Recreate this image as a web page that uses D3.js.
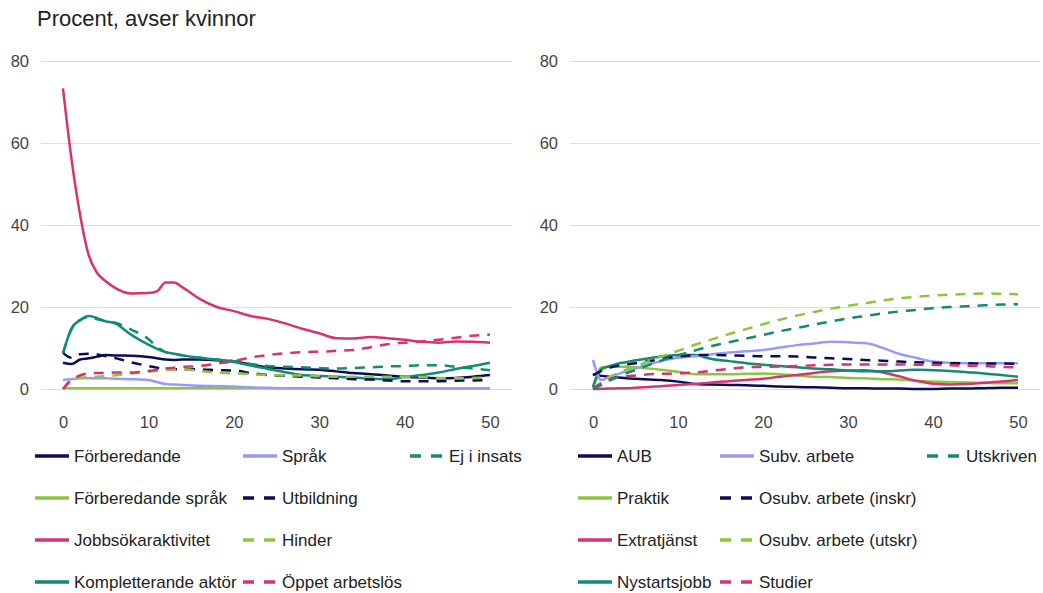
<!DOCTYPE html>
<html>
<head>
<meta charset="utf-8">
<script src="https://cdn.jsdelivr.net/npm/d3@7"></script>
<style>
  body { margin: 0; background: #fff; }
  svg { font-family: "Liberation Sans", Arial, sans-serif; }
</style>
</head>
<body>
<svg id="chart" width="1043" height="593"></svg>
<script>
// weeks along the x axis
const weeks = [0,1,2,3,4,5,6,8,10,11,12,13,14,16,18,20,22,24,26,28,30,32,34,36,38,40,42,44,46,48,50]
const yTicks = [0,20,40,60,80]
const xTicks = [0,10,20,30,40,50]

// left panel
const forberedande      = [6.4,6.1,7.2,7.5,7.9,8.3,8.2,8.1,7.8,7.5,7.2,7.1,7.2,7.2,7.0,6.7,6.0,5.3,5.0,4.8,4.7,4.3,3.9,3.6,3.3,3.0,2.8,2.6,2.7,3.0,3.4]
const forberedandeSprak = [0.2,0.2,0.2,0.2,0.2,0.2,0.2,0.2,0.2,0.2,0.2,0.2,0.2,0.2,0.2,0.2,0.2,0.2,0.2,0.2,0.2,0.2,0.2,0.2,0.2,0.2,0.2,0.2,0.2,0.2,0.2]
const jobbsok           = [73.3,56,42.5,32.7,28.3,26.3,24.8,23.3,23.4,23.8,26,26,24.8,22,20,19,17.8,17.1,16,14.7,13.6,12.4,12.3,12.7,12.4,12,11.5,11.3,11.6,11.5,11.3]
const kompletterande    = [8.7,14.8,16.8,17.8,17.3,16.5,16.1,13.2,10.8,9.8,9.0,8.6,8.2,7.6,7.2,6.6,5.7,4.9,4.1,3.4,3.2,3.0,2.8,2.5,2.4,2.9,3.4,4.0,4.9,5.6,6.4]
const sprak             = [2.2,2.4,2.6,2.6,2.6,2.6,2.5,2.4,2.2,1.7,1.2,1.1,1.0,0.8,0.7,0.6,0.4,0.3,0.2,0.2,0.1,0.1,0.1,0.1,0.1,0.1,0.1,0.1,0.1,0.1,0.1]
const utbildning        = [8.8,7.6,8.5,8.6,8.4,8.0,7.6,6.5,5.6,5.2,4.8,4.8,4.8,4.8,4.6,4.5,3.9,3.4,3.2,3.0,2.8,2.6,2.4,2.3,2.1,1.9,1.9,1.9,2.0,2.1,2.2]
const hinder            = [0,2.3,2.7,2.9,3.0,3.1,3.3,3.8,4.2,4.4,4.6,4.7,4.8,4.4,4.0,3.8,3.6,3.4,3.3,3.3,3.1,3.0,3.0,3.0,3.0,3.0,2.9,2.7,2.6,2.7,2.8]
const oppetArbetslos    = [0,2.2,3.3,3.8,3.9,3.9,4.0,4.0,4.4,4.7,5.0,5.2,5.4,5.6,6.2,6.8,7.7,8.3,8.7,9.0,9.1,9.3,9.5,10.2,10.9,11.3,11.6,12.0,12.5,13.0,13.3]
const ejIInsats         = [8.7,14.6,16.8,17.6,17.0,16.5,16.2,14.5,12.2,10.3,9.0,8.6,8.2,7.6,7.2,6.8,6.1,5.6,5.4,5.3,5.1,5.0,5.1,5.3,5.5,5.6,5.8,5.8,5.4,5.0,4.6]

// right panel
const aub          = [3.6,3.2,3.0,2.8,2.6,2.5,2.4,2.2,1.8,1.5,1.2,1.1,1.1,1.0,0.9,0.8,0.6,0.5,0.4,0.3,0.2,0.2,0.1,0.1,0,0,0.1,0.1,0.2,0.3,0.3]
const praktik      = [0.5,5.3,5.4,5.4,5.4,5.3,5.1,4.7,4.2,3.9,3.6,3.6,3.6,3.6,3.7,3.8,3.6,3.3,3.0,2.9,2.7,2.6,2.4,2.3,2.0,1.8,1.7,1.6,1.5,1.4,1.4]
const extratjanst  = [0,0.05,0.1,0.2,0.2,0.3,0.4,0.7,1.0,1.1,1.2,1.4,1.6,1.9,2.2,2.5,3.0,3.4,3.9,4.3,4.5,4.6,4.1,3.1,2.0,1.3,1.1,1.2,1.5,1.8,2.2]
const nystartsjobb = [0.5,4.8,5.6,6.2,6.6,7.0,7.3,7.9,8.3,8.3,8.3,7.8,7.3,6.8,6.3,5.9,5.6,5.3,5.0,4.8,4.5,4.3,4.3,4.5,4.7,4.6,4.4,4.1,3.8,3.4,3.0]
const subvArbete   = [7.1,2.2,3.0,3.7,4.4,5.0,5.7,6.8,7.6,7.8,8.0,8.2,8.5,8.9,9.2,9.5,10.1,10.7,11.1,11.5,11.4,11.2,10.1,8.6,7.6,6.7,6.4,6.3,6.3,6.3,6.3]
const osubvInskr   = [3.4,4.4,5.2,5.7,6.0,6.3,6.6,7.3,7.9,8.1,8.3,8.3,8.3,8.2,8.1,8.0,8.0,7.9,7.7,7.5,7.3,7.1,6.9,6.7,6.5,6.4,6.3,6.3,6.2,6.2,6.1]
const osubvUtskr   = [0,1.5,3.0,3.9,4.8,5.5,6.3,7.9,9.3,10.0,10.8,11.5,12.1,13.4,14.6,15.8,16.9,17.9,18.8,19.6,20.3,20.9,21.6,22.1,22.5,22.8,23.0,23.2,23.3,23.2,23.1]
const studier      = [0,1.5,2.4,2.8,3.1,3.3,3.5,3.7,3.8,3.9,4.0,4.2,4.5,4.9,5.3,5.4,5.5,5.6,5.8,5.9,6.0,6.0,6.0,6.0,5.9,5.9,5.8,5.7,5.6,5.4,5.3]
const utskriven    = [0,1.0,2.1,3.0,3.9,4.6,5.4,6.9,8.2,8.8,9.4,10.0,10.5,11.4,12.3,13.2,14.1,14.9,15.7,16.5,17.2,17.8,18.4,18.9,19.3,19.7,20.0,20.2,20.4,20.6,20.7]

const navy = '#0b0c55', lime = '#8cc63f', pink = '#d6336f', teal = '#138b73', lavender = '#9a9af4'

const leftSeries = [
  {name: 'Förberedande', values: forberedande, color: navy, dash: false},
  {name: 'Förberedande språk', values: forberedandeSprak, color: lime, dash: false},
  {name: 'Jobbsökaraktivitet', values: jobbsok, color: pink, dash: false},
  {name: 'Kompletterande aktör', values: kompletterande, color: teal, dash: false},
  {name: 'Språk', values: sprak, color: lavender, dash: false},
  {name: 'Utbildning', values: utbildning, color: navy, dash: true},
  {name: 'Hinder', values: hinder, color: lime, dash: true},
  {name: 'Öppet arbetslös', values: oppetArbetslos, color: pink, dash: true},
  {name: 'Ej i insats', values: ejIInsats, color: teal, dash: true}
]
const rightSeries = [
  {name: 'AUB', values: aub, color: navy, dash: false},
  {name: 'Praktik', values: praktik, color: lime, dash: false},
  {name: 'Extratjänst', values: extratjanst, color: pink, dash: false},
  {name: 'Nystartsjobb', values: nystartsjobb, color: teal, dash: false},
  {name: 'Subv. arbete', values: subvArbete, color: lavender, dash: false},
  {name: 'Osubv. arbete (inskr)', values: osubvInskr, color: navy, dash: true},
  {name: 'Osubv. arbete (utskr)', values: osubvUtskr, color: lime, dash: true},
  {name: 'Studier', values: studier, color: pink, dash: true},
  {name: 'Utskriven', values: utskriven, color: teal, dash: true}
]

const svg = d3.select('#chart')

svg.append('text')
  .attr('x', 37).attr('y', 26)
  .attr('font-size', '22px')
  .attr('fill', '#222')
  .text('Procent, avser kvinnor')

const y = d3.scaleLinear().domain([0, 80]).range([389, 61])

function panel(series, conf) {
  const x = d3.scaleLinear().domain([0, 50]).range([conf.x0, conf.x1])
  const g = svg.append('g')

  const yAxis = g.append('g')
    .attr('transform', `translate(${conf.gridL},0)`)
    .call(d3.axisLeft(y).tickValues(yTicks).tickSize(-(conf.gridR - conf.gridL)).tickPadding(12))
  yAxis.select('.domain').remove()
  yAxis.selectAll('line').attr('stroke', '#dedede')
  yAxis.selectAll('text').attr('font-size', '16.5px').attr('fill', '#444').attr('font-family', 'inherit')

  const xAxis = g.append('g')
    .attr('transform', 'translate(0,389)')
    .call(d3.axisBottom(x).tickValues(xTicks).tickSize(0).tickPadding(27))
  xAxis.select('.domain').remove()
  xAxis.selectAll('text').attr('font-size', '16.5px').attr('fill', '#444').attr('font-family', 'inherit')

  const line = d3.line()
    .x((d, i) => x(weeks[i]))
    .y(d => y(d))
    .curve(d3.curveMonotoneX)

  g.selectAll('.series')
    .data(series)
    .enter()
    .append('path')
    .attr('class', 'series')
    .attr('d', d => line(d.values))
    .attr('fill', 'none')
    .attr('stroke', d => d.color)
    .attr('stroke-width', 2.5)
    .attr('stroke-dasharray', d => d.dash ? '10,8' : null)

  // legend, filled column by column
  const rows = [456, 498, 540, 582]
  const items = g.selectAll('.legend')
    .data(series)
    .enter()
    .append('g')
    .attr('class', 'legend')
    .attr('transform', (d, i) => `translate(${conf.legendX[Math.floor(i / 4)]},${rows[i % 4]})`)
  items.append('line')
    .attr('x1', 0).attr('x2', 34)
    .attr('stroke', d => d.color)
    .attr('stroke-width', 3.5)
    .attr('stroke-dasharray', d => d.dash ? '11,10' : null)
  items.append('text')
    .attr('x', 39)
    .attr('dy', '0.35em')
    .attr('font-size', '17px')
    .attr('fill', '#222')
    .text(d => d.name)
}

panel(leftSeries, {x0: 63, x1: 490, gridL: 41, gridR: 512, legendX: [35, 243, 410]})
panel(rightSeries, {x0: 593, x1: 1018, gridL: 570, gridR: 1040, legendX: [578, 720, 927]})
</script>
</body>
</html>
